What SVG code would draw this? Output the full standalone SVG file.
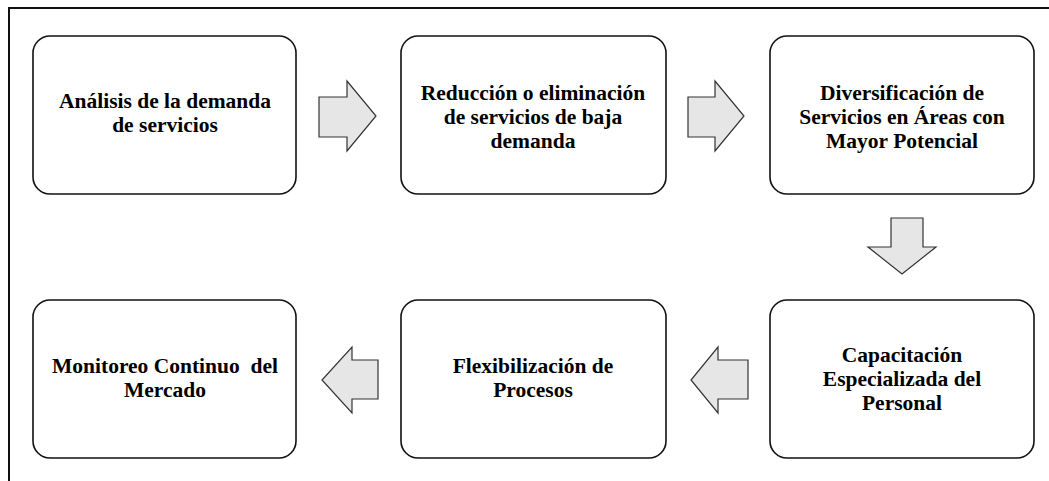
<svg xmlns="http://www.w3.org/2000/svg" width="1049" height="481" viewBox="0 0 1049 481">
<style>
.box{fill:#ffffff;stroke:#111111;stroke-width:1.6}
.arr{fill:#e6e6e6;stroke:#333333;stroke-width:1.2;stroke-linejoin:miter}
.frame{fill:none;stroke:#111111;stroke-width:2}
text{font-family:"Liberation Serif","Times New Roman",serif;font-weight:bold;font-size:21.5px;fill:#000000;text-anchor:middle}
</style>
<rect width="1049" height="481" fill="#ffffff"/>
<g id="frame">
<path class="frame" d="M9,481 V8 H1049"/>
</g>
<g id="connectors">
<path class="arr" d="M319,97 H347 V81 L376,116 L347,151 V137 H319 Z"/>
<path class="arr" d="M688,97 H715 V81 L744,116 L715,151 V137 H688 Z"/>
<path class="arr" d="M891,218 H923 V247 H936 L902,274 L868,247 H891 Z"/>
<path class="arr" d="M748,360 H718 V347 L691,380 L718,413 V399 H748 Z"/>
<path class="arr" d="M378,360 H352 V347 L322,380 L352,413 V399 H378 Z"/>
</g>
<g id="node1">
<rect class="box" x="33" y="36" width="263" height="158" rx="17"/>
<text x="165" y="108">Análisis de la demanda</text>
<text x="165" y="132">de servicios</text>
</g>
<g id="node2">
<rect class="box" x="401" y="36" width="265" height="158" rx="17"/>
<text x="533" y="100">Reducción o eliminación</text>
<text x="533" y="124">de servicios de baja</text>
<text x="533" y="148">demanda</text>
</g>
<g id="node3">
<rect class="box" x="770" y="36" width="264" height="158" rx="17"/>
<text x="902" y="100">Diversificación de</text>
<text x="902" y="124">Servicios en Áreas con</text>
<text x="902" y="148">Mayor Potencial</text>
</g>
<g id="node4">
<rect class="box" x="770" y="300" width="264" height="158" rx="17"/>
<text x="902" y="362">Capacitación</text>
<text x="902" y="386">Especializada del</text>
<text x="902" y="410">Personal</text>
</g>
<g id="node5">
<rect class="box" x="401" y="300" width="265" height="158" rx="17"/>
<text x="533" y="373">Flexibilización de</text>
<text x="533" y="397">Procesos</text>
</g>
<g id="node6">
<rect class="box" x="33" y="300" width="263" height="158" rx="17"/>
<text x="165" y="373" xml:space="preserve">Monitoreo Continuo  del</text>
<text x="165" y="397">Mercado</text>
</g>
</svg>
